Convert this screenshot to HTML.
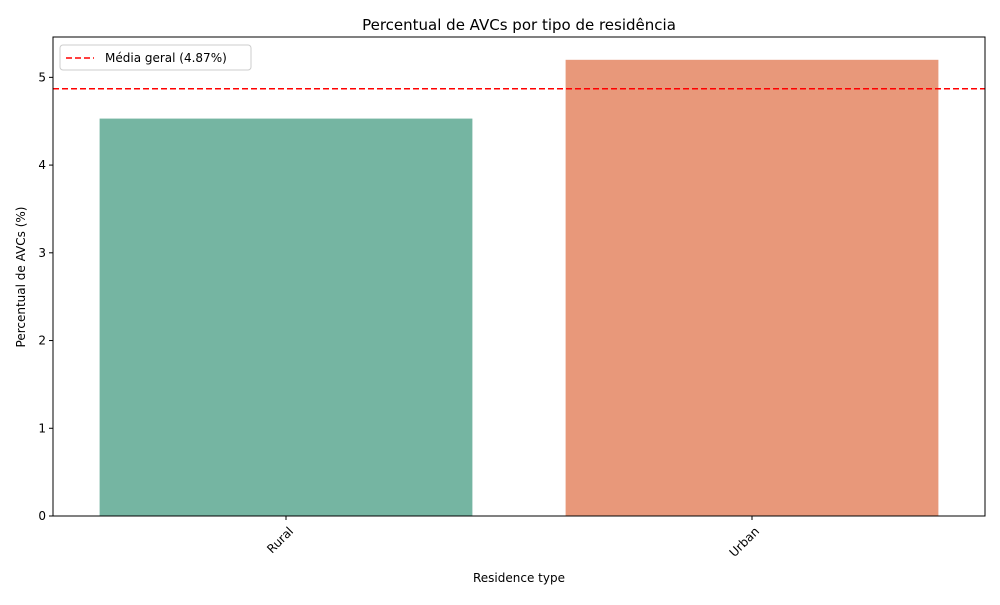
<!DOCTYPE html>
<html><head><meta charset="utf-8"><style>
body{margin:0;background:#fff;font-family:"Liberation Sans","DejaVu Sans",sans-serif}
svg text{font-family:"DejaVu Sans","Liberation Sans",sans-serif;fill:#000}
</style></head><body>
<svg id="chart" width="1000" height="600">
<text x="519" y="30" font-size="15" text-anchor="middle">Percentual de AVCs por tipo de residência</text>
<g id="plot"></g>
<text x="519" y="582" font-size="12" text-anchor="middle">Residence type</text>
<text transform="translate(25,277) rotate(-90)" font-size="12" text-anchor="middle">Percentual de AVCs (%)</text>
</svg>
<script>
const categories=["Rural","Urban"];
const values=[4.53,5.20];
const meanValue=4.87;
const yTicks=[0,1,2,3,4,5];
const colors=["#75b5a2","#e8987a"];
const L=53,R=985,T=37,B=516,yMax=5.46;
const xs=i=>L+(i+0.5)*(R-L)/categories.length;
const ys=v=>B-v*(B-T)/yMax;
const ns="http://www.w3.org/2000/svg";
const g=document.getElementById('plot');
function mk(t,a){const e=document.createElementNS(ns,t);for(const k in a)e.setAttribute(k,a[k]);g.appendChild(e);return e;}
const bw=0.8*(R-L)/categories.length;
categories.forEach((c,i)=>{
 const r=mk('rect',{x:xs(i)-bw/2,y:ys(values[i]),width:bw,height:B-ys(values[i]),fill:colors[i]});
 
 
 const t=mk('line',{x1:xs(i),x2:xs(i),y1:B,y2:B+4,stroke:'#000'});
 
 
 const lb=mk('text',{transform:`translate(${xs(i)+8},${B+16}) rotate(-45)`,'font-size':12,'text-anchor':'end'});
 lb.textContent=c;
 
 
});
yTicks.forEach(v=>{
 const t=mk('line',{x1:L-4,x2:L,y1:ys(v),y2:ys(v),stroke:'#000'});
 
 
 const lb=mk('text',{x:L-7,y:ys(v)+4,'font-size':12,'text-anchor':'end'});
 lb.textContent=v;
 
 
});
const ml=mk('line',{x1:L,x2:R,y1:ys(meanValue),y2:ys(meanValue),stroke:'#ff0000','stroke-width':1.5,'stroke-dasharray':'6,3'});


const fr=mk('rect',{x:L,y:T,width:R-L,height:B-T,fill:'none',stroke:'#000','stroke-width':1});


const lg=mk('rect',{x:60,y:45,width:191,height:25,rx:3,fill:'#fff',stroke:'#ccc'});


const ll=mk('line',{x1:66,x2:94,y1:58,y2:58,stroke:'#ff0000','stroke-width':1.5,'stroke-dasharray':'6,3'});


const lt=mk('text',{x:105,y:62,'font-size':12});
lt.textContent='Média geral ('+meanValue.toFixed(2)+'%)';


</script>
</body></html>
